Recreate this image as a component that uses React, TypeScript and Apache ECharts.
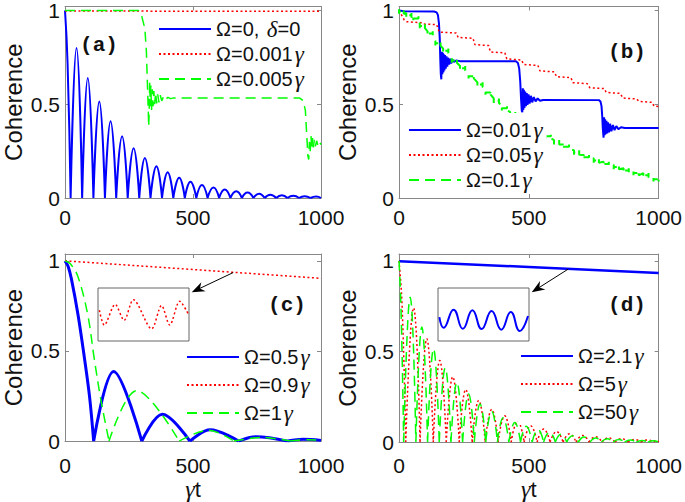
import React, { useEffect, useRef } from 'react';
import * as echarts from 'echarts';

const FONT = 'Liberation Sans, Arial, sans-serif';
const SERIF = 'Liberation Serif, Times New Roman, serif';
const MONO = 'Liberation Mono, Courier New, monospace';
const BLUE = '#0000ff';
const RED = '#ff0000';
const GREEN = '#00ff00';
const DOT = [2, 2.5];
const DASH = [10, 6];

const xTicks = [0, 500, 1000];
const yTicks = [0, 0.5, 1];
const panelLabels = ['(a)', '(b)', '(c)', '(d)'];

// ---------- panel (a) ----------
const aNames = ['Ω=0, δ=0', 'Ω=0.001γ', 'Ω=0.005γ'];
const aBlueHead = [[0, 1], [10, 0.72], [22, 0]];
const aBlueZeros = [22, 67, 111, 156, 200, 245, 290, 334, 379, 423, 468, 513, 557, 602, 646, 691, 736, 780, 825, 869, 914, 959, 1000];
const aBluePeakT = [45, 89, 134, 178, 223, 268, 312, 357, 401, 446, 490, 535, 580, 624, 669, 713, 758, 802, 847, 892, 936, 981];
const aBluePeakV = [0.8, 0.64, 0.515, 0.41, 0.33, 0.265, 0.213, 0.17, 0.137, 0.108, 0.087, 0.07, 0.056, 0.045, 0.036, 0.029, 0.023, 0.018, 0.015, 0.012, 0.01, 0.008];
const aRed = [[0, 0.997], [500, 0.9965], [1000, 0.996]];
const aGreen = [[0, 1], [287, 1], [299, 0.974], [312, 0.904], [318, 0.78], [322, 0.607], [325, 0.48], [327, 0.383],
  [329, 0.47], [331, 0.62], [333, 0.49], [335, 0.6], [338, 0.47], [341, 0.58], [344, 0.49], [347, 0.57], [350, 0.5],
  [354, 0.56], [358, 0.505], [362, 0.553], [367, 0.51], [372, 0.548], [378, 0.518], [385, 0.542], [393, 0.525],
  [402, 0.537], [412, 0.53], [425, 0.534], [917, 0.533], [930, 0.52], [939, 0.467], [944, 0.344], [949, 0.222],
  [952, 0.205], [955, 0.3], [958, 0.25], [961, 0.33], [964, 0.26], [967, 0.32], [970, 0.27], [974, 0.31],
  [978, 0.275], [983, 0.305], [988, 0.28], [994, 0.3], [1000, 0.285]];

// ---------- panel (b) ----------
const bNames = ['Ω=0.01γ', 'Ω=0.05γ', 'Ω=0.1γ'];
const bBlue = [[0, 1], [20, 0.996], [135, 0.995], [145, 0.99], [150, 0.975], [154, 0.93], [157, 0.85], [159, 0.74],
  [161, 0.66], [163, 0.633], [165, 0.78], [167, 0.66], [169, 0.775], [171, 0.67], [173, 0.767], [175, 0.68],
  [177, 0.762], [180, 0.69], [183, 0.755], [186, 0.70], [189, 0.748], [193, 0.712], [197, 0.743], [201, 0.718],
  [206, 0.738], [212, 0.725], [220, 0.733], [235, 0.73], [450, 0.73], [458, 0.72], [463, 0.69], [467, 0.62],
  [470, 0.53], [473, 0.465], [475, 0.458], [477, 0.585], [479, 0.47], [481, 0.577], [483, 0.48], [486, 0.568],
  [489, 0.49], [492, 0.56], [495, 0.497], [499, 0.553], [503, 0.503], [508, 0.545], [513, 0.51], [519, 0.538],
  [526, 0.515], [534, 0.531], [543, 0.519], [555, 0.523], [770, 0.522], [776, 0.515], [780, 0.49], [783, 0.43],
  [785, 0.37], [788, 0.322], [790, 0.43], [792, 0.335], [794, 0.42], [796, 0.34], [799, 0.412], [802, 0.345],
  [805, 0.404], [809, 0.35], [813, 0.396], [818, 0.356], [824, 0.389], [830, 0.362], [837, 0.383], [845, 0.367],
  [855, 0.377], [870, 0.373], [1000, 0.373]];
const bRed = [[0, 1], [10, 0.975], [20, 0.95], [30, 0.94], [85, 0.935], [90, 0.928], [145, 0.925], [155, 0.885],
  [220, 0.88], [228, 0.856], [285, 0.852], [292, 0.818], [345, 0.813], [352, 0.779], [408, 0.774], [415, 0.742],
  [472, 0.736], [480, 0.712], [535, 0.707], [543, 0.678], [598, 0.673], [607, 0.647], [662, 0.642], [670, 0.615],
  [725, 0.61], [735, 0.588], [790, 0.584], [798, 0.563], [852, 0.558], [862, 0.533], [915, 0.528], [925, 0.515],
  [975, 0.51], [982, 0.49], [1000, 0.488]];
const bGreenStepT = [8, 38, 65, 90, 120, 150, 180, 213, 245, 278, 312, 343, 375, 406, 438, 470, 505, 540, 575, 607, 645, 684, 722, 760, 798, 837, 875, 913, 951, 990];
const bGreenStepV = [0.995, 0.975, 0.958, 0.918, 0.877, 0.825, 0.785, 0.733, 0.692, 0.65, 0.605, 0.563, 0.519, 0.479, 0.447, 0.415, 0.385, 0.355, 0.33, 0.297, 0.273, 0.243, 0.217, 0.2, 0.182, 0.165, 0.147, 0.133, 0.121, 0.1];
const bGreenHalfWidth = 10;
const bGreenTick = 0.012;

// ---------- panel (c) ----------
const cNames = ['Ω=0.5γ', 'Ω=0.9γ', 'Ω=1γ'];
const cBlueSegs = [
  [[0, 1], [12, 0.97], [25, 0.9], [51, 0.7], [76, 0.46], [96, 0.245], [112, 0]],
  [[112, 0], [190, 0.386], [300, 0]],
  [[300, 0], [380, 0.149], [488, 0]],
  [[488, 0], [567, 0.063], [678, 0]],
  [[678, 0], [746, 0.024], [870, 0]],
  [[870, 0], [930, 0.01], [1000, 0.004]],
];
const cRed = [[0, 1], [500, 0.952], [1000, 0.903]];
const cGreenSegs = [
  [[0, 1], [20, 0.985], [50, 0.915], [89, 0.7], [114, 0.46], [140, 0.23], [172, 0]],
  [[172, 0], [280, 0.28], [446, 0]],
  [[446, 0], [560, 0.06], [660, 0]],
  [[660, 0], [770, 0.02], [880, 0]],
  [[880, 0], [950, 0.008], [1000, 0.005]],
];
const cInsetRed = [[0.015, 0.58], [0.069, 0.3], [0.189, 0.69], [0.287, 0.39], [0.389, 0.78], [0.589, 0.23], [0.698, 0.67], [0.789, 0.3], [0.898, 0.75], [0.989, 0.52]];
const cArrowFrom = [657, 0.935];

// ---------- panel (d) ----------
const dNames = ['Ω=2.1γ', 'Ω=5γ', 'Ω=50γ'];
const dBlue = [[0, 0.998], [500, 0.966], [1000, 0.933]];
const dRedHead = [[0, 1], [12, 0.75], [26, 0]];
const dRedZeros = [26, 81, 132, 182, 232, 282, 332, 382, 432, 482, 532, 582, 632, 682, 732, 782, 832, 882, 932, 982, 1000];
const dRedPeakT = [56, 107, 157, 207, 257, 307, 357, 407, 457, 507, 557, 607, 657, 707, 757, 807, 857, 907, 957, 991];
const dRedPeakV = [0.74, 0.57, 0.45, 0.36, 0.29, 0.23, 0.18, 0.145, 0.115, 0.09, 0.072, 0.058, 0.046, 0.037, 0.03, 0.024, 0.019, 0.015, 0.012, 0.01];
const dGreenHead = [[0, 1], [8, 0.72], [18, 0]];
const dGreenZeros = [18, 65, 110, 155, 200, 245, 290, 334, 379, 423, 468, 513, 557, 602, 646, 691, 736, 780, 825, 869, 914, 959, 1000];
const dGreenPeakT = [43, 88, 133, 178, 223, 268, 312, 357, 401, 446, 490, 535, 580, 624, 669, 713, 758, 802, 847, 892, 936, 981];
const dGreenPeakV = [0.8, 0.635, 0.515, 0.41, 0.33, 0.265, 0.21, 0.17, 0.135, 0.108, 0.087, 0.07, 0.055, 0.044, 0.035, 0.028, 0.022, 0.018, 0.014, 0.011, 0.009, 0.007];
const dInsetBlue = [[0.015, 0.45], [0.062, 0.25], [0.171, 0.59], [0.273, 0.23], [0.378, 0.58], [0.48, 0.226], [0.589, 0.566], [0.695, 0.214], [0.8, 0.547], [0.898, 0.189], [0.989, 0.47]];
const dArrowFrom = [652, 0.955];
const insetArrowTip = [1.03, 0.92];

// ---------- helpers ----------
function arches(head: number[][], zeros: number[], peakT: number[], peakV: number[]) {
  const out: any[] = head.map((p) => [p[0], p[1]]);
  for (let i = 0; i < peakT.length; i++) {
    out.push([zeros[i], null]);
    out.push([zeros[i], 0], [peakT[i], peakV[i]], [zeros[i + 1], 0]);
  }
  return out;
}
function joinSegs(segs: number[][][]) {
  const out: any[] = [];
  segs.forEach((s, i) => {
    if (i > 0) out.push([s[0][0], null]);
    s.forEach((p) => out.push([p[0], p[1]]));
  });
  return out;
}
function steps(ts: number[], vs: number[], hw: number, tick: number) {
  const out: any[] = [[0, 1]];
  ts.forEach((t, i) => {
    const a = Math.max(0, t - hw);
    const b = Math.min(1000, t + hw);
    out.push([a, vs[i] + tick], [a, vs[i] - tick], [a, vs[i]], [b, vs[i]], [b, vs[i] + tick], [b, vs[i] - tick]);
  });
  return out;
}

const grids = [
  { left: 59, top: 3, width: 262, height: 195 },
  { left: 399, top: 3, width: 262, height: 195 },
  { left: 60, top: 254, width: 261, height: 191 },
  { left: 399, top: 254, width: 262, height: 192 },
];
const yMaxes = [1.022, 1.022, 1.038, 1.038];
const xLabelMargins = [9, 9, 14, 13];

const richName = {
  g: { fontFamily: SERIF, fontStyle: 'italic', fontSize: 23, padding: [0, 0, 0, 2] },
};
const fmtName = (n: string) => n.replace(/([γδ])/g, '{g|$1}');

function line(name: string | undefined, data: any[], ai: number, color: string, width: number, type: any, smooth: number | boolean = false) {
  return {
    type: 'line', name, data, xAxisIndex: ai, yAxisIndex: ai, showSymbol: false, symbol: 'none',
    smooth, connectNulls: false, silent: true, animation: false,
    lineStyle: { color, width, type }, itemStyle: { color },
  };
}

function buildOption() {
  const xAxis: any[] = [];
  const yAxis: any[] = [];
  const grid: any[] = [];
  grids.forEach((g, p) => {
    grid.push({ ...g, show: false });
    const lineStyle = { color: '#888', width: 1 };
    const common = {
      type: 'value', gridIndex: p, min: 0, max: 1000, interval: 500,
      axisLine: { show: true, onZero: false, lineStyle },
      axisTick: { show: true, inside: true, length: 4, lineStyle },
      splitLine: { show: false },
    };
    xAxis.push({
      ...common, position: 'bottom',
      axisLabel: { show: true, fontSize: 21, fontFamily: FONT, color: '#111', margin: xLabelMargins[p],
        formatter: (v: number) => (xTicks.includes(v) ? String(v) : '') },
      name: p >= 2 ? '{g|γ}{t|t}' : '', nameLocation: 'middle', nameGap: 33,
      nameTextStyle: { rich: { g: { fontFamily: SERIF, fontStyle: 'italic', fontSize: 24, color: '#111' }, t: { fontFamily: FONT, fontSize: 22, color: '#111' } } },
    });
    xAxis.push({ ...common, position: 'top', axisLabel: { show: false } });
    const ycommon = {
      type: 'value', gridIndex: p, min: 0, max: yMaxes[p], interval: 0.5,
      axisLine: { show: true, onZero: false, lineStyle },
      axisTick: { show: true, inside: true, length: 4, lineStyle },
      splitLine: { show: false },
    };
    yAxis.push({
      ...ycommon, position: 'left',
      axisLabel: { show: true, fontSize: 21, fontFamily: FONT, color: '#111', margin: 5,
        formatter: (v: number) => (yTicks.includes(v) ? String(v) : '') },
      name: 'Coherence', nameLocation: 'middle', nameGap: 40, nameRotate: 90,
      nameTextStyle: { fontSize: 24, fontFamily: FONT, color: '#111' },
    });
    yAxis.push({ ...ycommon, position: 'right', axisLabel: { show: false } });
  });
  // insets
  const insets = [
    { left: 98, top: 288, width: 91, height: 53 },
    { left: 438, top: 288, width: 91, height: 53 },
  ];
  insets.forEach((g, k) => {
    grid.push({ ...g, show: true, backgroundColor: '#fff', borderColor: '#666', borderWidth: 1, z: 3 });
    xAxis.push({ type: 'value', gridIndex: 4 + k, min: 0, max: 1, show: false });
    yAxis.push({ type: 'value', gridIndex: 4 + k, min: 0, max: 1, show: false });
  });

  const series: any[] = [
    line(aNames[0], arches(aBlueHead, aBlueZeros, aBluePeakT, aBluePeakV), 0, BLUE, 2, 'solid', 0.5),
    line(aNames[1], aRed, 0, RED, 1.5, DOT),
    line(aNames[2], aGreen, 0, GREEN, 1.5, DASH),
    line(bNames[0], bBlue, 2, BLUE, 2, 'solid'),
    line(bNames[1], bRed, 2, RED, 1.5, DOT),
    line(bNames[2], steps(bGreenStepT, bGreenStepV, bGreenHalfWidth, bGreenTick), 2, GREEN, 2, DASH),
    line(cNames[0], joinSegs(cBlueSegs), 4, BLUE, 3, 'solid', 0.35),
    line(cNames[1], cRed, 4, RED, 1.5, DOT),
    line(cNames[2], joinSegs(cGreenSegs), 4, GREEN, 1.5, DASH, 0.35),
    line(dNames[0], dBlue, 6, BLUE, 2.5, 'solid'),
    line(dNames[1], arches(dRedHead, dRedZeros, dRedPeakT, dRedPeakV), 6, RED, 1.5, DOT, 0.5),
    line(dNames[2], arches(dGreenHead, dGreenZeros, dGreenPeakT, dGreenPeakV), 6, GREEN, 1.5, DASH, 0.5),
    { ...line(undefined, cInsetRed, 8, RED, 1.5, DOT, 0.3), z: 5 },
    { ...line(undefined, dInsetBlue, 9, BLUE, 2, 'solid', true), z: 5 },
  ];

  const legendBase = {
    orient: 'vertical', itemWidth: 52, itemHeight: 14, selectedMode: false,
    backgroundColor: '#fff', formatter: fmtName,
    itemStyle: { opacity: 0, borderWidth: 0 },
    lineStyle: { opacity: 1, width: 2 },
    textStyle: { fontSize: 20, fontFamily: FONT, color: '#111', rich: richName },
  };
  const legend = [
    { ...legendBase, data: aNames, left: 156, top: 17, itemGap: 1, padding: [0, 4, 0, 2], textStyle: { ...legendBase.textStyle, lineHeight: 24 } },
    { ...legendBase, data: bNames, left: 406, top: 113, itemGap: 1, padding: [5, 4, 2, 2], textStyle: { ...legendBase.textStyle, lineHeight: 24 } },
    { ...legendBase, data: cNames, left: 184, top: 344, itemGap: 2, padding: [0, 4, 0, 2], textStyle: { ...legendBase.textStyle, lineHeight: 26 } },
    { ...legendBase, data: dNames, left: 518, top: 343, itemGap: 2, padding: [0, 4, 0, 2], textStyle: { ...legendBase.textStyle, lineHeight: 26 } },
  ];

  return { animation: false, backgroundColor: '#fff', grid, xAxis, yAxis, series, legend };
}

const labelPos = [[99, 45], [627, 52], [287, 305], [627, 305]];

export default function App() {
  const ref = useRef<HTMLDivElement>(null);
  useEffect(() => {
    const chart = echarts.init(ref.current!, undefined, { renderer: 'svg' });
    chart.setOption(buildOption());
    const graphic: any[] = panelLabels.map((t, i) => ({
      type: 'text', x: labelPos[i][0], y: labelPos[i][1], z: 100,
      style: { text: t, fontFamily: MONO, fontSize: 21, fontWeight: 'bold', fill: '#111', align: 'center', verticalAlign: 'middle' },
    }));
    const arrowDefs = [
      { from: chart.convertToPixel({ xAxisIndex: 4, yAxisIndex: 4 } as any, cArrowFrom) as number[],
        to: chart.convertToPixel({ xAxisIndex: 8, yAxisIndex: 8 } as any, insetArrowTip) as number[] },
      { from: chart.convertToPixel({ xAxisIndex: 6, yAxisIndex: 6 } as any, dArrowFrom) as number[],
        to: chart.convertToPixel({ xAxisIndex: 9, yAxisIndex: 9 } as any, insetArrowTip) as number[] },
    ];
    arrowDefs.forEach(({ from, to }) => {
      const dx = to[0] - from[0];
      const dy = to[1] - from[1];
      const len = Math.sqrt(dx * dx + dy * dy) || 1;
      const ux = dx / len, uy = dy / len;
      const nx = -uy, ny = ux;
      const L = 13, W = 5, N = 4;
      const bx = to[0] - ux * L, by = to[1] - uy * L;
      graphic.push({ type: 'line', z: 100, shape: { x1: from[0], y1: from[1], x2: to[0] - ux * 8, y2: to[1] - uy * 8 }, style: { stroke: '#000', lineWidth: 1 } });
      graphic.push({
        type: 'polygon', z: 100,
        shape: { points: [[to[0], to[1]], [bx + nx * W, by + ny * W], [to[0] - ux * (L - N), to[1] - uy * (L - N)], [bx - nx * W, by - ny * W]] },
        style: { fill: '#000' },
      });
    });
    chart.setOption({ graphic });
    return () => chart.dispose();
  }, []);
  return <div ref={ref} style={{ position: 'absolute', left: 0, top: 0, width: 685, height: 502 }} />;
}
